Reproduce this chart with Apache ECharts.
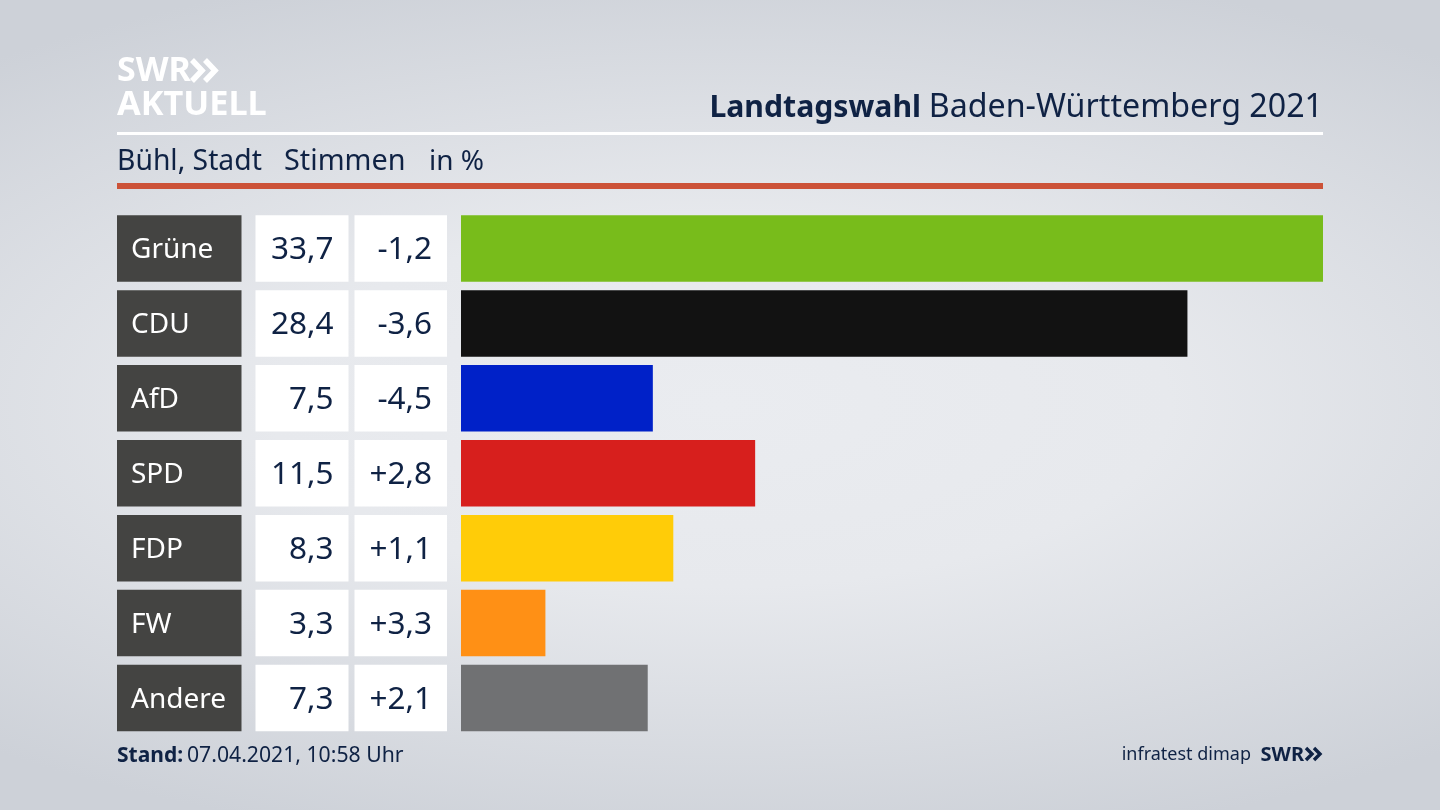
<!DOCTYPE html>
<html>
<head>
<meta charset="utf-8">
<title>Landtagswahl Baden-Württemberg 2021</title>
<script src="https://cdn.jsdelivr.net/npm/echarts@6/dist/echarts.min.js"></script>
<style>
  html, body { margin: 0; padding: 0; }
  #chart {
    width: 1440px;
    height: 810px;
    background: radial-gradient(ellipse 78% 56% at 50% 50%, #eaecf0 0%, #e7e9ed 40%, #cdd1d8 100%);
  }
</style>
</head>
<body>
<div id="chart"></div>
<script>
const parties = ['Grüne', 'CDU', 'AfD', 'SPD', 'FDP', 'FW', 'Andere']
const shares = [33.7, 28.4, 7.5, 11.5, 8.3, 3.3, 7.3]
const changes = ['-1,2', '-3,6', '-4,5', '+2,8', '+1,1', '+3,3', '+2,1']
const partyColors = ['#78bc1b', '#121212', '#0021c8', '#d71f1d', '#ffcc08', '#ff9015', '#707173']

const FONT = '"Noto Sans", sans-serif'
const NAVY = '#0f2244'

const chart = echarts.init(document.getElementById('chart'), null, { renderer: 'canvas' })

// 4 Spalten, alle mit der gleichen Zeilenhoehe
const rowTop = 211
const rowsHeight = 524.5
const columns = [
  { left: 117, width: 124.5 },
  { left: 255.5, width: 93 },
  { left: 354.5, width: 92.5 },
  { left: 461, width: 862 }
]

const fullCell = parties.map(() => 1)

function cellSeries(index, color, textColor, position, distance, size, formatter) {
  return {
    type: 'bar',
    xAxisIndex: index,
    yAxisIndex: index,
    data: fullCell,
    barWidth: 66.5,
    silent: true,
    itemStyle: { color: color },
    label: {
      show: true,
      position: position,
      distance: distance,
      offset: [0, 2],
      color: textColor,
      fontFamily: FONT,
      fontSize: size,
      formatter: formatter
    }
  }
}

function text(x, y, value, size, color, weight, align) {
  return {
    type: 'text',
    x: x,
    y: y,
    silent: true,
    style: {
      text: value,
      fontFamily: FONT,
      fontSize: size,
      fontWeight: weight || 'normal',
      fill: color,
      align: align || 'left',
      verticalAlign: 'middle'
    }
  }
}

// Doppelpfeil vom SWR Logo
function chevrons(x, y, w, h, gap, lineWidth, color) {
  return [0, gap].map(dx => ({
    type: 'polyline',
    silent: true,
    shape: { points: [[x + dx, y], [x + dx + w, y + h / 2], [x + dx, y + h]] },
    style: { stroke: color, lineWidth: lineWidth, fill: null }
  }))
}

chart.setOption({
  animation: false,
  grid: columns.map(c => ({ left: c.left, width: c.width, top: rowTop, height: rowsHeight })),
  xAxis: columns.map((c, i) => ({
    type: 'value',
    gridIndex: i,
    min: 0,
    max: i === 3 ? shares[0] : 1,
    show: false
  })),
  yAxis: columns.map((c, i) => ({
    type: 'category',
    gridIndex: i,
    data: parties,
    inverse: true,
    show: false
  })),
  series: [
    cellSeries(0, '#444442', '#ffffff', 'insideLeft', 14, 28, p => parties[p.dataIndex]),
    cellSeries(1, '#ffffff', NAVY, 'insideRight', 15, 31.5, p => shares[p.dataIndex].toFixed(1).replace('.', ',')),
    cellSeries(2, '#ffffff', NAVY, 'insideRight', 15, 31.5, p => changes[p.dataIndex]),
    {
      type: 'bar',
      xAxisIndex: 3,
      yAxisIndex: 3,
      barWidth: 66.5,
      silent: true,
      data: shares.map((v, i) => ({ value: v, itemStyle: { color: partyColors[i] } }))
    }
  ],
  graphic: [
    { type: 'rect', silent: true, shape: { x: 117, y: 132, width: 1206, height: 3 }, style: { fill: '#ffffff' } },
    { type: 'rect', silent: true, shape: { x: 117, y: 183, width: 1206, height: 6 }, style: { fill: '#cc5238' } },
    text(117, 71, 'SWR', 34, '#ffffff', 'bold'),
    ...chevrons(192, 60, 10, 21, 13, 5.5, '#ffffff'),
    text(117, 105, 'AKTUELL', 34.3, '#ffffff', 'bold'),
    text(921, 108, 'Landtagswahl', 30.2, NAVY, 'bold', 'right'),
    text(1323, 108, 'Baden-Württemberg 2021', 32.2, NAVY, 'normal', 'right'),
    text(117, 162, 'Bühl, Stadt', 28.3, NAVY),
    text(284, 162, 'Stimmen', 28.8, NAVY),
    text(429, 162, 'in %', 28, NAVY),
    text(117, 756, 'Stand:', 21, NAVY, 'bold'),
    text(187, 756, '07.04.2021, 10:58 Uhr', 21.2, NAVY),
    text(1251, 755, 'infratest dimap', 18, NAVY, 'normal', 'right'),
    text(1304, 755, 'SWR', 20, NAVY, 'bold', 'right'),
    ...chevrons(1306, 748, 6, 12, 8, 3.4, NAVY)
  ]
})

window.addEventListener('resize', () => {
  chart.resize()
})
</script>
</body>
</html>
